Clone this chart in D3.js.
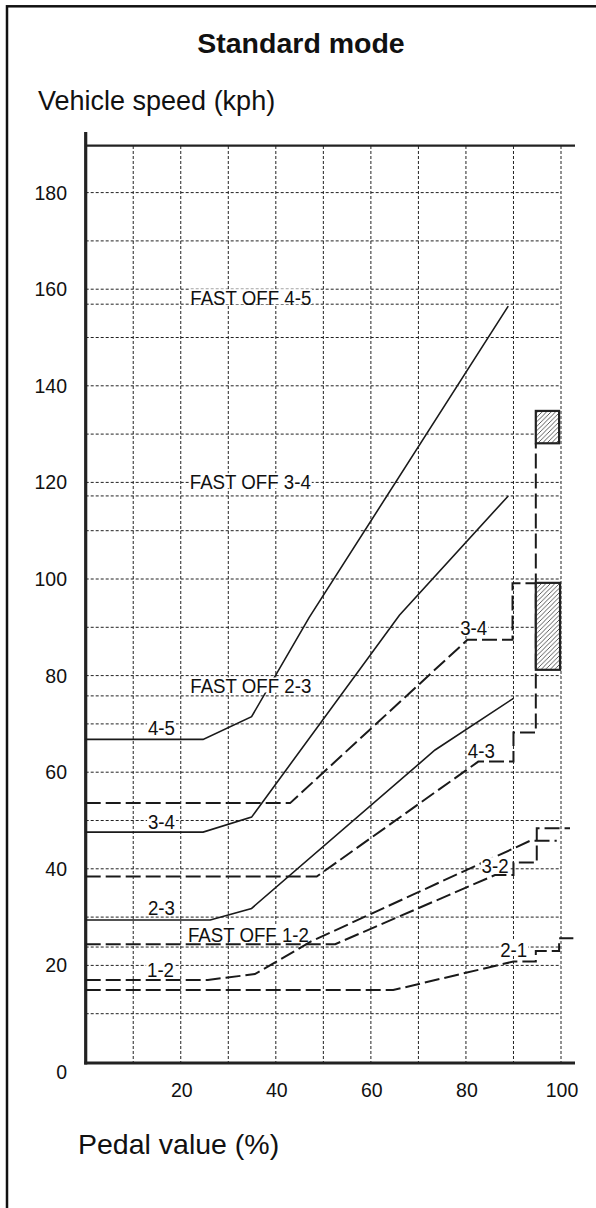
<!DOCTYPE html>
<html lang="en">
<head>
    <meta charset="utf-8">
    <style type="text/css">
        body { margin: 0; background: #fff; }
        text { font-family: "Liberation Sans", Arial, sans-serif; fill: #111; }
        .grid { stroke: #222; stroke-width: 1px; stroke-dasharray: 3,2; fill: none; }
        .upshift { stroke: #1a1a1a; stroke-width: 1.6px; fill: none; }
        .downshift { stroke: #1a1a1a; stroke-width: 2px; stroke-dasharray: 15,5; fill: none; }
        .axis { stroke: #222; fill: none; }
    </style>
</head>
<body>
<svg width="596" height="1208"></svg>

<script src="https://d3js.org/d3.v7.min.js"></script>
<script type="text/javascript">
    // ticks and grid
    var pedalTicks = [20, 40, 60, 80, 100];
    var pedalGrid = [10, 20, 30, 40, 50, 60, 70, 80, 90, 100];
    var speedTicks = [0, 20, 40, 60, 80, 100, 120, 140, 160, 180];
    var speedGrid = [10, 20, 30, 40, 50, 60, 70, 80, 90, 100, 110, 120, 130, 140, 150, 160, 170, 180];

    // upshift lines (solid), [pedal %, kph]
    var up45 = [[0, 66.8], [24.7, 66.8], [34.9, 71.5], [47, 92], [88.9, 156.5]];
    var up34 = [[0, 47.6], [24.7, 47.6], [34.9, 50.7], [66, 92.5], [88.9, 117.2]];
    var up23 = [[0, 29.4], [26.2, 29.4], [34.9, 31.8], [73.5, 64.6], [90, 75.3]];

    // dashed lines
    var up12 = [[0, 17.0], [25.7, 17.0], [35.6, 18.2], [47.5, 25.0], [93.5, 45.8], [99.1, 45.8]];
    var kick34 = [[0, 53.6], [43, 53.6], [80.3, 87.4], [89.8, 87.4], [89.8, 99.1], [94.7, 99.1]];
    var down43 = [[0, 38.4], [48.6, 38.4], [82.6, 62.2], [90, 62.2], [90, 68.2], [94.7, 68.2], [94.7, 128.1]];
    var down32 = [[0, 24.4], [52.5, 24.4], [86.1, 38.7], [90, 38.7], [90, 41.3], [94.9, 41.3], [94.9, 48.4], [101.9, 48.4]];
    var down21 = [[0, 14.9], [64.7, 14.9], [90, 20.8], [94.7, 20.8], [94.7, 23.0], [99.6, 23.0], [99.6, 25.6], [102.6, 25.6]];

    // fast off levels (kph)
    var fastOffNames = ["FAST OFF 4-5", "FAST OFF 3-4", "FAST OFF 2-3", "FAST OFF 1-2"];
    var fastOffSpeeds = [156.9, 117.2, 75.8, 23.8];

    // hatched zones [pedal from, pedal to, kph from, kph to]
    var zones = [[94.7, 99.6, 128.1, 134.8], [94.7, 99.8, 81.2, 99.2]];

    // line labels [text, pedal %, kph at baseline]
    var labels = [
        ["4-5", 13.1, 67.7], ["3-4", 13.1, 48.2], ["2-3", 13.1, 30.4], ["1-2", 12.9, 17.6],
        ["FAST OFF 4-5", 22.0, 156.7], ["FAST OFF 3-4", 21.9, 118.6],
        ["FAST OFF 2-3", 22.0, 76.3], ["FAST OFF 1-2", 21.5, 24.9],
        ["3-4", 78.8, 88.4], ["4-3", 80.4, 62.9], ["3-2", 83.3, 39.1], ["2-1", 87.2, 21.8]
    ];

    var svg = d3.select("svg");

    var x = d3.scaleLinear().domain([0, 100]).range([85.7, 561]);
    var y = d3.scaleLinear().domain([0, 180]).range([1062, 192.6]);

    var line = d3.line()
        .x(function (d) { return x(d[0]); })
        .y(function (d) { return y(d[1]); });

    var defs = svg.append("defs");
    defs.append("pattern")
        .attr("id", "hatch")
        .attr("patternUnits", "userSpaceOnUse")
        .attr("width", 4.5)
        .attr("height", 4.5)
        .append("path")
        .attr("d", "M-1,1 l2,-2 M0,4.5 l4.5,-4.5 M3.5,5.5 l2,-2")
        .attr("stroke", "#333")
        .attr("stroke-width", 0.8);

    // outer frame, cut off at right and bottom
    svg.append("rect")
        .attr("x", 7).attr("y", 6.3)
        .attr("width", 800).attr("height", 1400)
        .attr("fill", "none")
        .attr("stroke", "#111")
        .attr("stroke-width", 2.5);

    svg.append("text")
        .attr("x", 301).attr("y", 53)
        .attr("text-anchor", "middle")
        .style("font-size", "28.5px")
        .style("font-weight", "bold")
        .text("Standard mode");

    svg.append("text")
        .attr("x", 38).attr("y", 110)
        .style("font-size", "27px")
        .text("Vehicle speed (kph)");

    svg.append("text")
        .attr("x", 78).attr("y", 1154)
        .style("font-size", "28.5px")
        .text("Pedal value (%)");

    // grid
    svg.append("g").selectAll("line")
        .data(pedalGrid)
        .enter().append("line")
        .attr("class", "grid")
        .attr("x1", function (d) { return x(d); })
        .attr("x2", function (d) { return x(d); })
        .attr("y1", 146)
        .attr("y2", y(0));

    svg.append("g").selectAll("line")
        .data(speedGrid)
        .enter().append("line")
        .attr("class", "grid")
        .attr("x1", x(0))
        .attr("x2", x(100))
        .attr("y1", function (d) { return y(d); })
        .attr("y2", function (d) { return y(d); });

    svg.append("g").selectAll("line")
        .data(fastOffSpeeds)
        .enter().append("line")
        .attr("class", "grid")
        .attr("x1", x(0))
        .attr("x2", x(100))
        .attr("y1", function (d) { return y(d); })
        .attr("y2", function (d) { return y(d); });

    // axes
    svg.append("line").attr("class", "axis")
        .attr("x1", x(0)).attr("x2", x(0))
        .attr("y1", 132).attr("y2", y(0) + 2.5)
        .attr("stroke-width", 3.2);
    svg.append("line").attr("class", "axis")
        .attr("x1", x(0) - 1.5).attr("x2", 575)
        .attr("y1", y(0) + 1).attr("y2", y(0) + 1)
        .attr("stroke-width", 3);
    svg.append("line").attr("class", "axis")
        .attr("x1", x(0)).attr("x2", 575)
        .attr("y1", 145.7).attr("y2", 145.7)
        .attr("stroke-width", 2.3);

    svg.append("g").selectAll("text")
        .data(speedTicks)
        .enter().append("text")
        .attr("x", 67)
        .attr("y", function (d) { return d === 0 ? y(d) + 17 : y(d) + 7; })
        .attr("text-anchor", "end")
        .style("font-size", "19.5px")
        .text(function (d) { return d; });

    svg.append("g").selectAll("text")
        .data(pedalTicks)
        .enter().append("text")
        .attr("x", function (d) { return x(d) + 1; })
        .attr("y", 1097)
        .attr("text-anchor", "middle")
        .style("font-size", "19.5px")
        .text(function (d) { return d; });

    // shift lines
    [down43, kick34, down32, down21, up12].forEach(function (s) {
        svg.append("path").datum(s).attr("class", "downshift").attr("d", line);
    });
    [up45, up34, up23].forEach(function (s) {
        svg.append("path").datum(s).attr("class", "upshift").attr("d", line);
    });

    // hatched zones
    var zone = svg.append("g").selectAll("g")
        .data(zones)
        .enter().append("g");
    zone.append("rect")
        .attr("x", function (d) { return x(d[0]); })
        .attr("y", function (d) { return y(d[3]); })
        .attr("width", function (d) { return x(d[1]) - x(d[0]); })
        .attr("height", function (d) { return y(d[2]) - y(d[3]); })
        .attr("fill", "#fff");
    zone.append("rect")
        .attr("x", function (d) { return x(d[0]); })
        .attr("y", function (d) { return y(d[3]); })
        .attr("width", function (d) { return x(d[1]) - x(d[0]); })
        .attr("height", function (d) { return y(d[2]) - y(d[3]); })
        .attr("fill", "url(#hatch)")
        .attr("stroke", "#222")
        .attr("stroke-width", 2.2);

    // labels with white backing
    var lab = svg.append("g").selectAll("g")
        .data(labels)
        .enter().append("g")
        .attr("transform", function (d) {
            return "translate(" + x(d[1]) + "," + y(d[2]) + ") scale(0.89,1)";
        });
    lab.append("text")
        .style("font-size", "21px")
        .text(function (d) { return d[0]; });
    lab.each(function () {
        var g = d3.select(this);
        var b = g.select("text").node().getBBox();
        g.insert("rect", "text")
            .attr("x", b.x - 1)
            .attr("y", -16)
            .attr("width", b.width + 2)
            .attr("height", 15)
            .attr("fill", "#fff");
    });
</script>
</body>
</html>
